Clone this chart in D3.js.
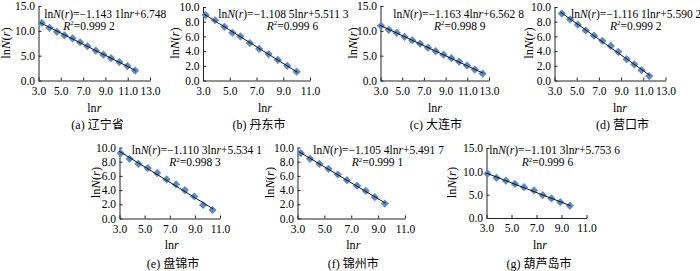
<!DOCTYPE html>
<html><head><meta charset="utf-8">
<script src="https://cdn.jsdelivr.net/npm/d3@7"></script>
<style>
html,body{margin:0;padding:0;background:#fff;}
svg text{font-family:"Liberation Serif","Times New Roman","Noto Sans CJK SC",serif;fill:#000;}
</style></head><body>
<svg id="c" width="700" height="271"></svg>
<script>
// ---- data ----
const panelLabels = ["(a) 辽宁省","(b) 丹东市","(c) 大连市","(d) 营口市","(e) 盘锦市","(f) 锦州市","(g) 葫芦岛市"];
const slopes = ["1.143 1","1.108 5","1.163 4","1.116 1","1.110 3","1.105 4","1.101 3"];
const intercepts = ["6.748","5.511 3","6.562 8","5.590 2","5.534 1","5.491 7","5.753 6"];
const r2s = ["0.999 2","0.999 6","0.998 9","0.999 2","0.998 3","0.999 1","0.999 6"];

const lnrA = [3.30,3.99,4.65,5.33,6.05,6.73,7.39,8.14,8.82,9.51,10.25,10.97,11.66];
const lnNA = [11.6,10.6,9.8,9.1,8.5,7.7,6.9,6.0,5.2,4.5,3.7,2.9,2.0];
const lnrB = [3.2,3.9,4.6,5.2,5.8,6.5,7.2,7.9,8.6,9.3,10.0];
const lnNB = [8.9,8.2,7.3,6.5,6.0,5.1,4.3,3.6,2.8,2.0,1.2];
const lnrC = [3.05,3.77,4.49,5.21,5.93,6.65,7.37,8.09,8.81,9.53,10.25,10.97,11.69,12.41];
const lnNC = [11.0,10.2,9.6,8.8,8.1,7.4,6.6,5.9,5.2,4.5,3.8,3.0,2.2,1.4];
const lnrD = [3.66,4.41,5.10,5.81,6.56,7.31,8.07,8.75,9.50,10.19,10.84,11.53];
const lnND = [9.1,8.3,7.6,6.8,6.1,5.4,4.7,3.9,2.9,2.2,1.4,0.6];
const lnrE = [3.1,3.8,4.5,5.25,6.0,6.75,7.5,8.2,8.95,9.65,10.4];
const lnNE = [9.2,8.4,7.7,7.1,6.4,5.5,4.8,4.0,3.1,1.9,1.2];
const lnrF = [3.25,3.93,4.63,5.3,6.0,6.68,7.43,8.08,8.75,9.5];
const lnNF = [9.2,8.4,7.7,7.0,6.2,5.4,4.6,3.9,3.0,2.1];
const lnrG = [3.08,3.8,4.55,5.27,6.0,6.8,7.5,8.2,8.9,9.67];
const lnNG = [9.5,8.6,8.0,7.3,6.6,5.9,4.9,4.2,3.4,2.6];

const xTicks13 = [3,5,7,9,11,13];
const xTicks11 = [3,5,7,9,11];
const yTicks15 = [0,5,10,15];
const yTicks10 = [0,2,4,6,8,10];

// ---- layout ----
const layout = [
  {x0:38.5, x1:150,  yT:6,     yB:80.5,  xmax:13, ymax:15, eqX:44.3,  r2X:63.3,  tX:6,   lnrX:94.3, labX:97.5},
  {x0:203,  x1:310,  yT:7,     yB:80.5,  xmax:11, ymax:10, eqX:218.3, r2X:266.7, tX:175, lnrX:265,  labX:259},
  {x0:380.5,x1:489,  yT:6,     yB:80.5,  xmax:13, ymax:15, eqX:393.3, r2X:434,   tX:352.5,lnrX:435, labX:435.8},
  {x0:554.5,x1:665.5,yT:7,     yB:80.5,  xmax:13, ymax:10, eqX:571,   r2X:610,   tX:529, lnrX:620,  labX:622.5},
  {x0:119.5,x1:220,  yT:147.5, yB:218.5, xmax:11, ymax:10, eqX:131.7, r2X:169.3, tX:96,  lnrX:171.7,labX:173},
  {x0:297.5,x1:405,  yT:147.5, yB:218.5, xmax:11, ymax:10, eqX:313.3, r2X:351.7, tX:270, lnrX:353.3,labX:353.3},
  {x0:486.5,x1:586.5,yT:148,   yB:218,   xmax:11, ymax:15, eqX:489.3, r2X:521.7, tX:451.5,lnrX:540, labX:539}
];
const xs = [lnrA,lnrB,lnrC,lnrD,lnrE,lnrF,lnrG];
const ys = [lnNA,lnNB,lnNC,lnND,lnNE,lnNF,lnNG];

const svg = d3.select("#c");
const fmt = d3.format(".1f");
const axisColor = "#222";
const ptColor = "#5A8AC6";

layout.forEach((L,i)=>{
  const top = i < 4;
  const x = d3.scaleLinear().domain([3, L.xmax]).range([L.x0, L.x1]);
  const y = d3.scaleLinear().domain([0, L.ymax]).range([L.yB, L.yT]);
  const g = svg.append("g");

  const ya = g.append("g").attr("transform",`translate(${L.x0},0)`)
    .call(d3.axisLeft(y).tickValues(L.ymax===15?yTicks15:yTicks10).tickFormat(fmt).tickSizeInner(-3).tickSizeOuter(0).tickPadding(3.5));
  const xa = g.append("g").attr("transform",`translate(0,${L.yB})`)
    .call(d3.axisBottom(x).tickValues(L.xmax===13?xTicks13:xTicks11).tickFormat(fmt).tickSizeInner(-3).tickSizeOuter(0).tickPadding(6));
  [ya,xa].forEach(a=>{
    a.selectAll("path,line").attr("stroke",axisColor).attr("stroke-width",1);
    a.selectAll("text").attr("font-size","11.5px").attr("font-family",'"Liberation Serif",serif').attr("fill","#000");
  });

  // trend line (least squares of plotted points)
  const xd = xs[i], yd = ys[i];
  const mx = d3.mean(xd), my = d3.mean(yd);
  const b = d3.sum(xd,(v,k)=>(v-mx)*(yd[k]-my)) / d3.sum(xd,v=>(v-mx)*(v-mx));
  const a = my - b*mx;
  const xmin = d3.min(xd)-0.15, xmaxd = d3.max(xd)+0.05;

  // points
  const rr = 4.1;
  g.append("g").selectAll("path").data(xd.map((v,k)=>[v,yd[k]])).join("path")
    .attr("d",d=>`M${x(d[0])},${y(d[1])-rr}L${x(d[0])+rr},${y(d[1])}L${x(d[0])},${y(d[1])+rr}L${x(d[0])-rr},${y(d[1])}Z`)
    .attr("fill",ptColor);

  g.append("line")
    .attr("x1",x(xmin)).attr("y1",y(a+b*xmin))
    .attr("x2",x(xmaxd)).attr("y2",y(a+b*xmaxd))
    .attr("stroke","#111").attr("stroke-width",1);

  // equation
  const eqY = top ? 17.5 : 153.5;
  const r2Y = top ? 29.5 : 166;
  const eq = g.append("text").attr("x",L.eqX).attr("y",eqY).attr("font-size","11.5px");
  eq.append("tspan").text("ln");
  eq.append("tspan").attr("font-style","italic").text("N");
  eq.append("tspan").text("(");
  eq.append("tspan").attr("font-style","italic").text("r");
  eq.append("tspan").text(")=\u2212"+slopes[i]+"ln");
  eq.append("tspan").attr("font-style","italic").text("r");
  eq.append("tspan").text("+"+intercepts[i]);

  const r2 = g.append("text").attr("x",L.r2X).attr("y",r2Y).attr("font-size","11.5px");
  r2.append("tspan").attr("font-style","italic").text("R");
  r2.append("tspan").attr("font-size","7px").attr("dy",-4.5).text("2");
  r2.append("tspan").attr("dy",4.5).text("="+r2s[i]);

  // y title
  const tY = top ? 43 : 182.5;
  const yt = g.append("text").attr("transform",`translate(${L.tX+4},${tY}) rotate(-90)`)
    .attr("text-anchor","middle").attr("font-size","12.5px");
  yt.append("tspan").text("ln");
  yt.append("tspan").attr("font-style","italic").text("N");
  yt.append("tspan").text("(");
  yt.append("tspan").attr("font-style","italic").text("r");
  yt.append("tspan").text(")");

  // x title
  const xt = g.append("text").attr("x",L.lnrX).attr("y", top ? 112 : 249)
    .attr("text-anchor","middle").attr("font-size","12px");
  xt.append("tspan").text("ln");
  xt.append("tspan").attr("font-style","italic").text("r");

  // panel label
  g.append("text").attr("x",L.labX).attr("y", top ? 129 : 267.5)
    .attr("text-anchor","middle").attr("font-size","12px").text(panelLabels[i]);
});
</script>
</body></html>
